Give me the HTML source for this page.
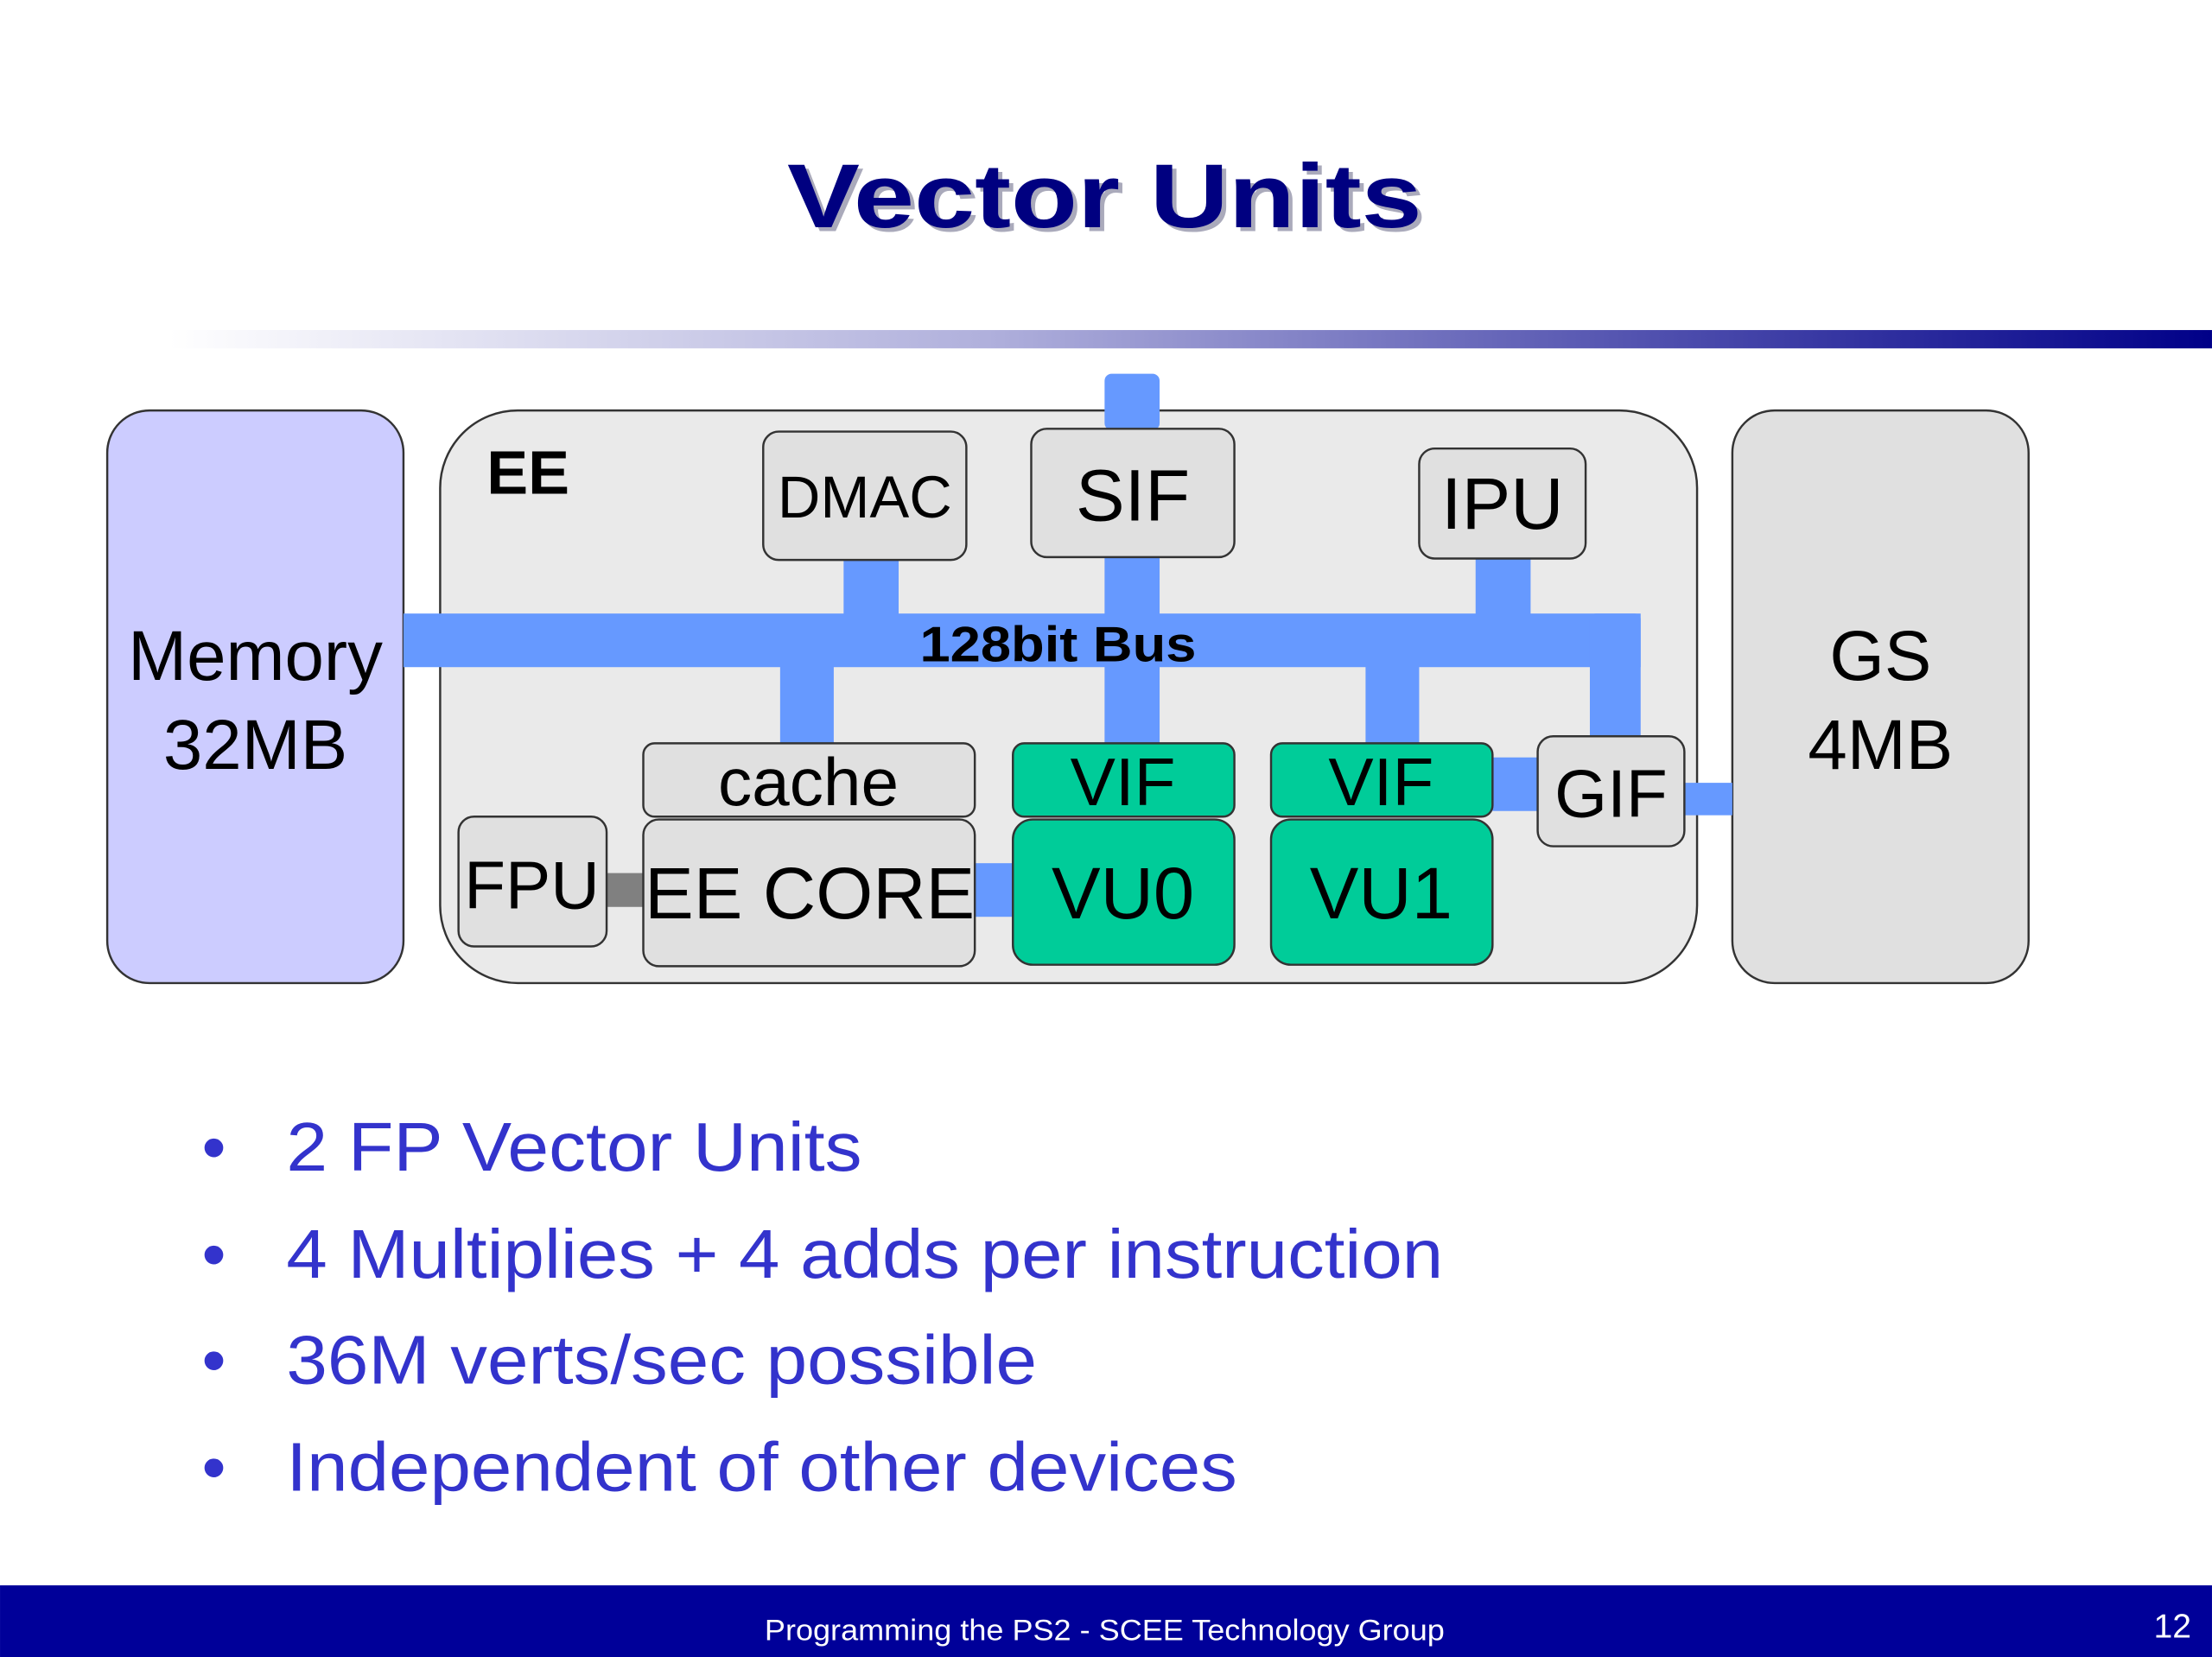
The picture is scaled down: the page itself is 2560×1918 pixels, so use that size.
<!DOCTYPE html>
<html><head><meta charset="utf-8"><style>
html,body{margin:0;padding:0;background:#fff;}
svg{display:block;}
text{font-family:"Liberation Sans",Arial,sans-serif;}
</style></head><body>
<svg width="2560" height="1918" viewBox="0 0 1568 1174.8" xmlns="http://www.w3.org/2000/svg">
<defs>
<linearGradient id="g" x1="0" x2="1" y1="0" y2="0">
<stop offset="0" stop-color="#ffffff"/>
<stop offset="0.4" stop-color="#b0b0dc"/>
<stop offset="1" stop-color="#000088"/>
</linearGradient>
</defs>
<rect width="1568" height="1175" fill="#fff"/>
<text x="561" y="164" font-size="64" font-weight="bold" fill="#aab" textLength="450" lengthAdjust="spacingAndGlyphs">Vector Units</text>
<text x="558" y="161" font-size="64" font-weight="bold" fill="#000080" textLength="450" lengthAdjust="spacingAndGlyphs">Vector Units</text>
<rect x="120" y="234" width="1448" height="13" fill="url(#g)"/>

<rect x="76" y="291" width="210" height="406" rx="30" fill="#ccccff" stroke="#333" stroke-width="1.5"/>
<text x="181" y="482" text-anchor="middle" font-size="50">Memory</text>
<text x="181" y="545" text-anchor="middle" font-size="50">32MB</text>
<rect x="312" y="291" width="891" height="406" rx="55" fill="#eaeaea" stroke="#333" stroke-width="1.5"/>
<rect x="1228" y="291" width="210" height="406" rx="30" fill="#e0e0e0" stroke="#333" stroke-width="1.5"/>
<text x="1333" y="482" text-anchor="middle" font-size="50">GS</text>
<text x="1333" y="545" text-anchor="middle" font-size="50">4MB</text>
<text x="345" y="350" font-size="44" font-weight="bold">EE</text>

<g fill="#6699ff">
<rect x="286" y="435" width="877" height="38"/>
<rect x="1127" y="435" width="36" height="90" rx="4"/>
<rect x="598" y="396" width="39" height="40"/>
<rect x="783" y="265" width="39" height="40" rx="5"/>
<rect x="783" y="394" width="39" height="134"/>
<rect x="1046" y="395" width="39" height="41"/>
<rect x="553" y="472" width="38" height="56"/>
<rect x="968" y="472" width="38" height="56"/>
<rect x="1058" y="537" width="33" height="38"/>
<rect x="1194" y="555" width="34" height="23"/>
<rect x="690" y="612" width="29" height="38"/>
</g>
<rect x="430" y="619" width="27" height="24" fill="#808080"/>
<text x="652" y="469" font-size="35" font-weight="bold" textLength="196" lengthAdjust="spacingAndGlyphs">128bit Bus</text>

<g stroke="#333" stroke-width="1.5">
<rect x="541" y="306" width="144" height="91" rx="11" fill="#e0e0e0"/>
<rect x="731" y="304" width="144" height="91" rx="11" fill="#e0e0e0"/>
<rect x="1006" y="318" width="118" height="78" rx="11" fill="#e0e0e0"/>
<rect x="456" y="527" width="235" height="52" rx="8" fill="#e0e0e0"/>
<rect x="456" y="581" width="235" height="104" rx="11" fill="#e0e0e0"/>
<rect x="325" y="579" width="105" height="92" rx="11" fill="#e0e0e0"/>
<rect x="718" y="527" width="157" height="52" rx="8" fill="#00cc99"/>
<rect x="718" y="581" width="157" height="103" rx="14" fill="#00cc99"/>
<rect x="901" y="527" width="157" height="52" rx="8" fill="#00cc99"/>
<rect x="901" y="581" width="157" height="103" rx="14" fill="#00cc99"/>
<rect x="1090" y="522" width="104" height="78" rx="11" fill="#e0e0e0"/>
</g>
<g font-size="48" text-anchor="middle">
<text x="613" y="367" font-size="42">DMAC</text>
<text x="803" y="369" font-size="52">SIF</text>
<text x="1065" y="375" font-size="52">IPU</text>
<text x="573" y="571">cache</text>
<text x="574" y="651" font-size="52">EE CORE</text>
<text x="377" y="644">FPU</text>
<text x="796" y="571">VIF</text>
<text x="796" y="651" font-size="52">VU0</text>
<text x="979" y="571">VIF</text>
<text x="979" y="651" font-size="52">VU1</text>
<text x="1142" y="579">GIF</text>
</g>

<g fill="#3333cc" font-size="49">
<text x="143" y="830">•</text><text x="203" y="830" textLength="408" lengthAdjust="spacingAndGlyphs">2 FP Vector Units</text>
<text x="143" y="906">•</text><text x="203" y="906" textLength="820" lengthAdjust="spacingAndGlyphs">4 Multiplies + 4 adds per instruction</text>
<text x="143" y="981">•</text><text x="203" y="981" textLength="532" lengthAdjust="spacingAndGlyphs">36M verts/sec possible</text>
<text x="143" y="1057">•</text><text x="203" y="1057" textLength="674" lengthAdjust="spacingAndGlyphs">Independent of other devices</text>
</g>

<rect x="0" y="1124" width="1568" height="51" fill="#000099"/>
<text x="542" y="1163" font-size="21" fill="#fff" textLength="482" lengthAdjust="spacingAndGlyphs">Programming the PS2  - SCEE Technology Group</text>
<text x="1540" y="1161" text-anchor="middle" font-size="24" fill="#fff">12</text>
</svg>
</body></html>
